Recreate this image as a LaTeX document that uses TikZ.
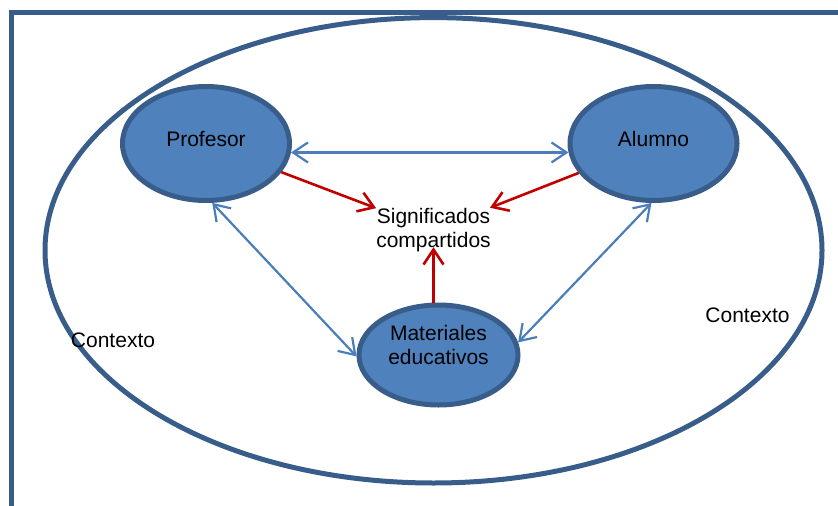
\documentclass[tikz,border=0pt]{standalone}
\usepackage{fontspec}
\setmainfont{Liberation Sans}
\usetikzlibrary{arrows.meta,shapes.geometric}
\definecolor{rahmen}{HTML}{385D8A}
\definecolor{fuellung}{HTML}{4F81BD}
\definecolor{blaupfeil}{HTML}{4A7EBB}
\definecolor{rotpfeil}{HTML}{C00000}

\begin{document}
\begin{tikzpicture}[x=1pt, y=-1pt,
    >={Straight Barb[length=15pt,width=20pt]},   %Voreinstellung fuer Pfeilspitzen
    font=\fontsize{21}{24.5}\selectfont,
    elipse/.style={ellipse, draw=rahmen, line width=5pt, fill=fuellung,
        minimum width=167pt, minimum height=114pt, inner sep=0pt, align=center, text depth=9.4pt},
    azul/.style={<->, draw=blaupfeil, line width=2.2pt},
    rojo/.style={->, draw=rotpfeil, line width=2.6pt}]
    %Bildbereich
    \useasboundingbox (0,0) rectangle (838,506);
    \clip (0,0) rectangle (838,506);
    %Rahmen und Kontext
    \draw[rahmen, line width=5pt] (11,12.5) rectangle (870,540);
    \draw[rahmen, line width=5pt] (433.5,250.3) ellipse [x radius=388.5, y radius=232.7];
    %Knoten
    \node[elipse] (prof) at (206,143.5) {Profesor};
    \node[elipse] (alu) at (653.5,143.5) {Alumno};
    \node[elipse, minimum width=159pt, minimum height=100pt, text depth=19.3pt,
        font=\fontsize{21}{24}\selectfont] (mat) at (438.5,355) {Materiales\\educativos};
    \node[align=center, inner sep=0pt] (sig) at (433.5,230) {Significados\\compartidos};
    \node (ctxl) at (113,340) {Contexto};
    \node (ctxr) at (747.5,315) {Contexto};
    %Pfeile
    \draw[azul] (prof.-6) -- (alu.186);
    \draw[azul] (prof.-84) -- (mat.181);
    \draw[azul] (alu.-92) -- (mat.9);
    \draw[rojo] (prof) -- (sig);
    \draw[rojo] (alu) -- (sig);
    \draw[rojo] (mat.north -| sig.south) -- ([yshift=5pt]sig.south);
\end{tikzpicture}
\end{document}
